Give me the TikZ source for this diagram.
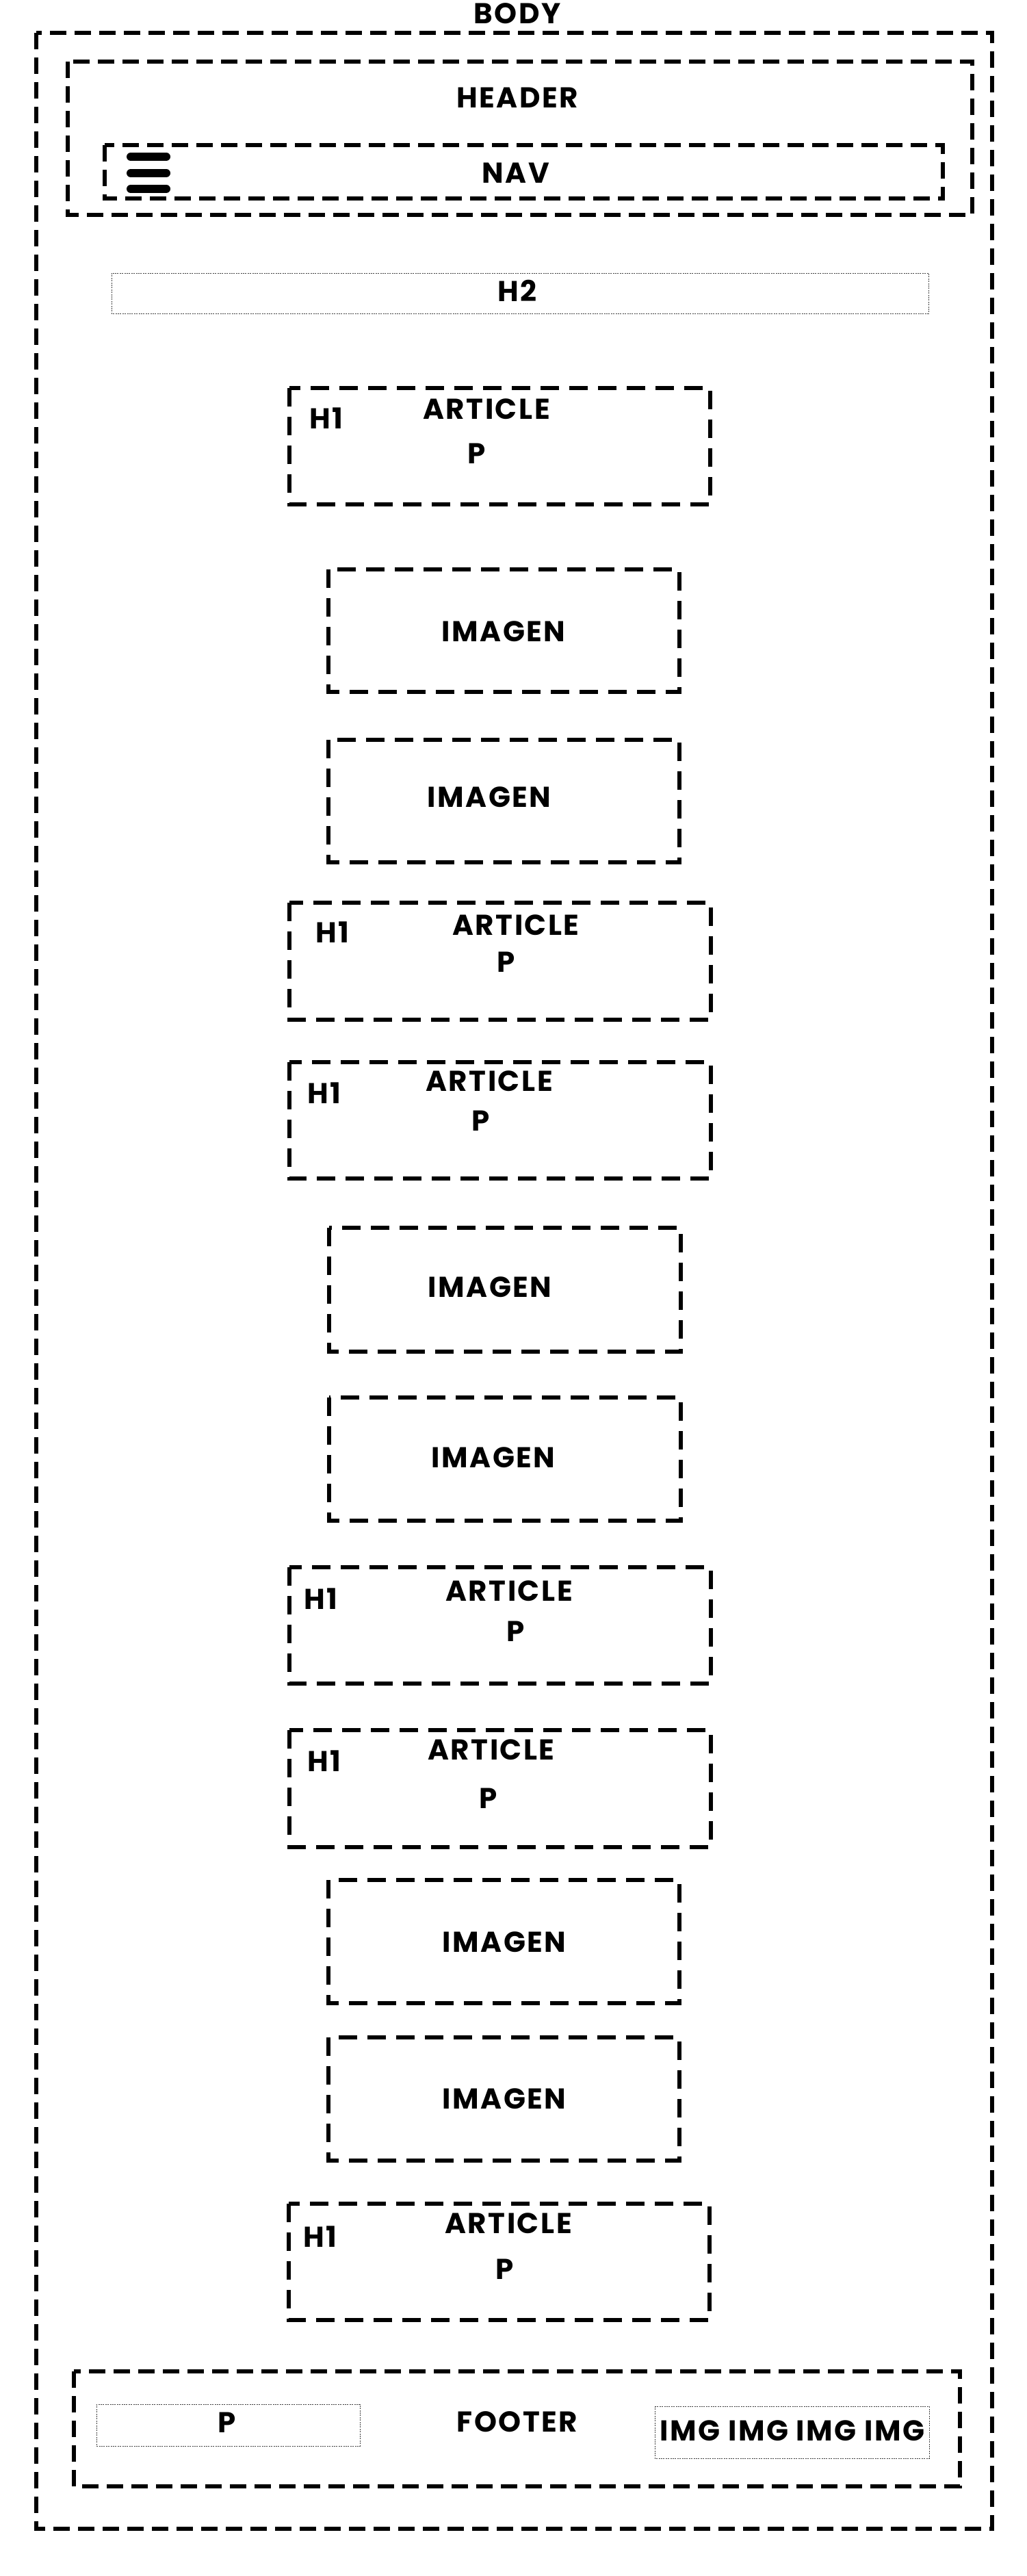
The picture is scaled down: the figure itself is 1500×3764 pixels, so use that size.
\documentclass[tikz,border=0pt]{standalone}
\usepackage{fontspec}
\setmainfont{Poppins}[LetterSpace=6]
\begin{document}
\begin{tikzpicture}[x=0.5pt,y=-0.5pt,
  bigbox/.style={draw=black, line width=2.8pt, dash pattern=on 12pt off 6pt},
  artbox/.style={draw=black, line width=3.3pt, dash pattern=on 13.5pt off 7.5pt},
  thinbox/.style={draw=black!75, line width=0.5pt, dash pattern=on 1pt off 0.7pt},
  lbl/.style={font=\bfseries\fontsize{21}{25}\selectfont, inner sep=0pt, anchor=center},
  burger/.style={line width=6pt, line cap=round}]
\useasboundingbox (0,0) rectangle (1500,3764);
% body
\draw[bigbox] (53,48) rectangle (1450,3695);
\node[lbl] (body) at (756,20) {BODY};
% header + nav
\draw[bigbox] (99,90) rectangle (1421,314);
\node[lbl] (header) at (756,143) {HEADER};
\draw[bigbox] (153,212) rectangle (1378,290);
\node[lbl] (nav) at (754,253) {NAV};
\draw[burger] (191,229) -- (243,229);
\draw[burger] (191,253) -- (243,253);
\draw[burger] (191,276) -- (243,276);
% h2
\draw[thinbox] (163,399) rectangle (1357,458);
\node[lbl] (h2) at (756,425) {H2};
% article 1
\draw[artbox] (423,567) rectangle (1038,737);
\node[lbl] (a1h) at (477,611) {H1};
\node[lbl] (a1t) at (711,598) {ARTICLE};
\node[lbl] (a1p) at (697,663) {P};
% imagen 1,2
\draw[artbox] (480,832) rectangle (993,1011);
\node[lbl] (i1) at (736,923) {IMAGEN};
\draw[artbox] (480,1081) rectangle (993,1260);
\node[lbl] (i2) at (715,1165) {IMAGEN};
% article 2
\draw[artbox] (423,1319) rectangle (1039,1490);
\node[lbl] (a2h) at (486,1362) {H1};
\node[lbl] (a2t) at (754,1352) {ARTICLE};
\node[lbl] (a2p) at (740,1406) {P};
% article 3
\draw[artbox] (423,1552) rectangle (1039,1722);
\node[lbl] (a3h) at (474,1597) {H1};
\node[lbl] (a3t) at (715,1580) {ARTICLE};
\node[lbl] (a3p) at (703,1638) {P};
% imagen 3,4
\draw[artbox] (481,1794) rectangle (995,1975);
\node[lbl] (i3) at (716,1881) {IMAGEN};
\draw[artbox] (481,2042) rectangle (995,2222);
\node[lbl] (i4) at (721,2130) {IMAGEN};
% article 4
\draw[artbox] (423,2290) rectangle (1039,2460);
\node[lbl] (a4h) at (469,2336) {H1};
\node[lbl] (a4t) at (744,2325) {ARTICLE};
\node[lbl] (a4p) at (754,2384) {P};
% article 5
\draw[artbox] (423,2528) rectangle (1039,2699);
\node[lbl] (a5h) at (474,2573) {H1};
\node[lbl] (a5t) at (718,2557) {ARTICLE};
\node[lbl] (a5p) at (714,2628) {P};
% imagen 5,6
\draw[artbox] (480,2747) rectangle (993,2927);
\node[lbl] (i5) at (737,2838) {IMAGEN};
\draw[artbox] (480,2977) rectangle (993,3157);
\node[lbl] (i6) at (737,3067) {IMAGEN};
% article 6
\draw[artbox] (422,3220) rectangle (1037,3390);
\node[lbl] (a6h) at (468,3268) {H1};
\node[lbl] (a6t) at (743,3249) {ARTICLE};
\node[lbl] (a6p) at (738,3316) {P};
% footer
\draw[bigbox] (108,3465) rectangle (1403,3633);
\draw[thinbox] (141,3513) rectangle (526,3574);
\node[lbl] (fp) at (332,3540) {P};
\node[lbl] (footer) at (756,3539) {FOOTER};
\draw[thinbox] (957,3516) rectangle (1358,3592);
\node[lbl] (fimg) at (1158,3552) {IMG IMG IMG IMG};
\end{tikzpicture}
\end{document}
